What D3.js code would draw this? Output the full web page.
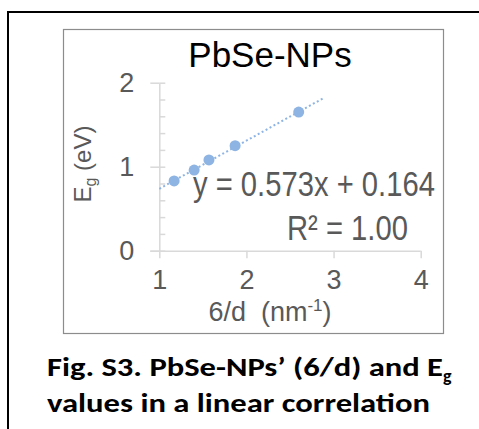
<!DOCTYPE html>
<html><head><meta charset="utf-8">
<script src="https://cdn.jsdelivr.net/npm/d3@7"></script>
<style>
html,body{margin:0;padding:0;background:#fff;}
svg{display:block;}
</style></head>
<body>
<svg id="c" width="479" height="429"></svg>
<script>
// Data
const xValues = [1.17, 1.40, 1.57, 1.87, 2.60];      // 6/d (nm^-1)
const yValues = [0.83, 0.96, 1.08, 1.25, 1.65];      // Eg (eV)
const trendX = [1.0, 2.88];
const slope = 0.573, intercept = 0.164;
const xTickLabels = [1, 2, 3, 4];
const yTickLabels = [0, 1, 2];
const yMinorTicks = [0, 0.2, 0.4, 0.6, 0.8, 1.0, 1.2, 1.4, 1.6, 1.8, 2.0];
const titleText = "PbSe-NPs";
const eqText = "y = 0.573x + 0.164";
const r2Text = "R² = 1.00";
const captionLine1 = "Fig. S3. PbSe-NPs’ (6/d) and E";
const captionLine2 = "values in a linear correlation";

const svg = d3.select("#c");
const FONT = "Arial, 'Liberation Sans', sans-serif";
const GREY = "#595959";
const AX = "#d9d9d9";
const BLUE = "#8eb4e3";

// outer frame (cropped at right/bottom)
svg.append("path").attr("d", "M8,440 L8,12 L490,12")
  .attr("fill","none").attr("stroke","#000").attr("stroke-width",2);
// chart area border
svg.append("rect").attr("x",63.5).attr("y",29.5).attr("width",380).attr("height",304)
  .attr("fill","#fff").attr("stroke","#8c8c8c").attr("stroke-width",1.2);

const x = d3.scaleLinear().domain([1,4]).range([159.3, 420.7]);
const y = d3.scaleLinear().domain([0,2]).range([250.7, 82.7]);

// y axis: major ticks outside, minor inside
const gy = svg.append("g").attr("transform",`translate(${x(1)},0)`)
  .call(d3.axisLeft(y).tickValues(yTickLabels).tickSize(9).tickSizeOuter(0).tickPadding(16).tickFormat(d3.format("d")));
const gyMinor = svg.append("g").attr("transform",`translate(${x(1)},0)`)
  .call(d3.axisRight(y).tickValues(yMinorTicks).tickSize(6).tickSizeOuter(0).tickFormat(""));
gyMinor.select(".domain").remove();

// x axis
const gx = svg.append("g").attr("transform",`translate(0,${y(0)})`)
  .call(d3.axisBottom(x).tickValues(xTickLabels).tickSize(7.5).tickSizeOuter(0).tickPadding(12).tickFormat(d3.format("d")));
gx.select(".domain").attr("d", `M${x(1)-9},0.5H${x(4)}`);

[gy, gyMinor, gx].forEach(g => {
  g.selectAll("path,line").attr("stroke", AX).attr("stroke-width",1.5);
  g.selectAll("text").attr("fill", GREY).attr("font-family", FONT).attr("font-size", 27);
});

// trendline
svg.append("line")
  .attr("x1", x(trendX[0])).attr("y1", y(slope*trendX[0]+intercept))
  .attr("x2", x(trendX[1])).attr("y2", y(slope*trendX[1]+intercept))
  .attr("stroke", BLUE).attr("stroke-width", 2).attr("stroke-dasharray","2,2.5");

// points
svg.selectAll("circle.pt").data(xValues.map((v,i)=>[v,yValues[i]])).enter()
  .append("circle").attr("class","pt")
  .attr("cx", d=>x(d[0])).attr("cy", d=>y(d[1])).attr("r",5.5).attr("fill",BLUE);

// title
svg.append("text").attr("x",270).attr("y",67).attr("text-anchor","middle")
  .attr("font-family",FONT).attr("font-size",35).attr("fill","#000").text(titleText);

// equation & R2 (condensed horizontally via scale)
function condensed(str, x0, y0, targetW) {
  const t = svg.append("text").attr("font-family",FONT).attr("font-size",35)
    .attr("fill",GREY).text(str);
  const w = t.node().getComputedTextLength();
  t.attr("transform", `translate(${x0},${y0}) scale(${targetW/w},1)`);
  return t;
}
condensed(eqText, 193, 196, 242);
condensed(r2Text, 287, 240, 121);

// y axis title
const yt = svg.append("text").attr("transform","translate(91,164) rotate(-90)")
  .attr("text-anchor","middle").attr("font-family",FONT).attr("font-size",24).attr("fill",GREY);
yt.append("tspan").text("E");
yt.append("tspan").attr("font-size",16).attr("dy",5).text("g");
yt.append("tspan").attr("dy",-5).text(" (eV)");

// x axis title
const xt = svg.append("text").attr("x",270).attr("y",321).attr("text-anchor","middle")
  .attr("font-family",FONT).attr("font-size",27).attr("fill",GREY).attr("xml:space","preserve");
xt.append("tspan").text("6/d  (nm");
xt.append("tspan").attr("font-size",17).attr("dy",-10).text("-1");
xt.append("tspan").attr("dy",10).text(")");

// caption
const CF = "Carlito, Calibri, Lato, 'Open Sans', sans-serif";
svg.append("text").attr("x",47).attr("y",376).attr("font-family",CF).attr("font-weight","bold")
  .attr("font-size",27).attr("fill","#000").attr("textLength",396).attr("lengthAdjust","spacingAndGlyphs").text(captionLine1);
svg.append("text").attr("x",443).attr("y",382).attr("font-family",CF).attr("font-weight","bold")
  .attr("font-size",18).attr("fill","#000").text("g");
svg.append("text").attr("x",47).attr("y",412).attr("font-family",CF).attr("font-weight","bold")
  .attr("font-size",27).attr("fill","#000").attr("textLength",383).attr("lengthAdjust","spacingAndGlyphs").text(captionLine2);
</script>
</body></html>
